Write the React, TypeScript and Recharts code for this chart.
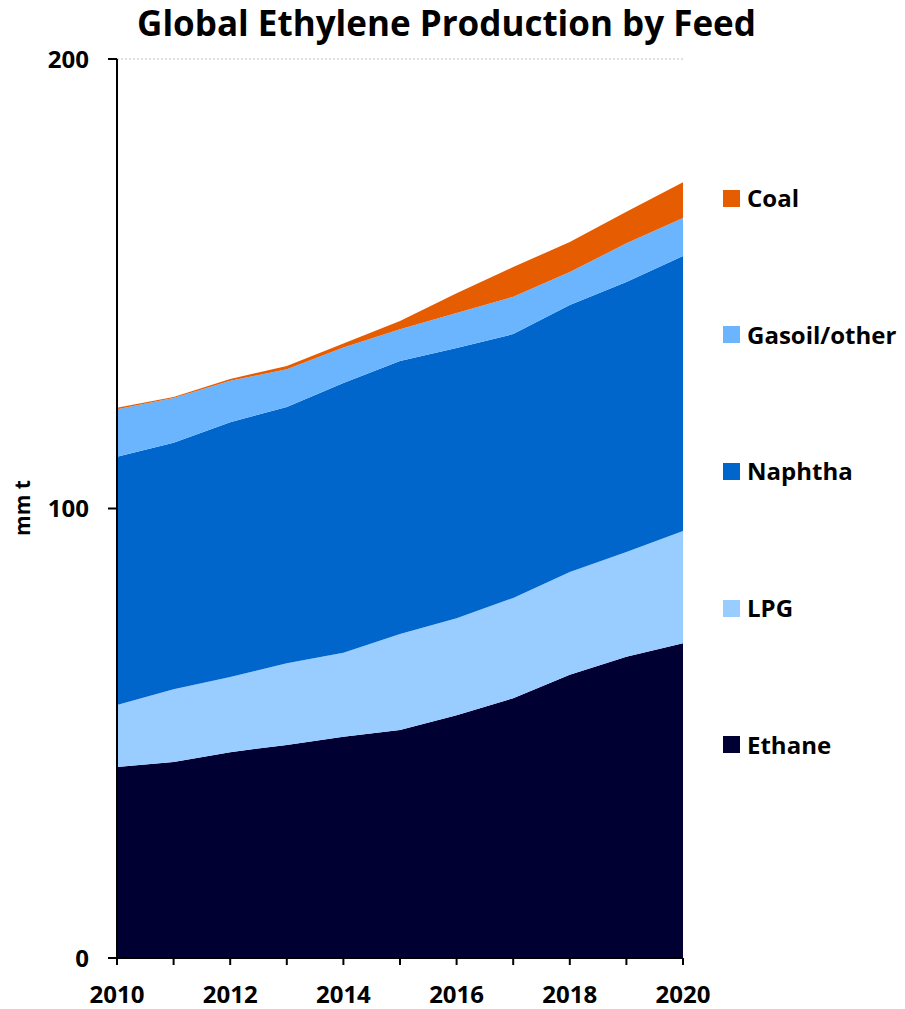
import { AreaChart, Area, XAxis, YAxis, ReferenceLine } from 'recharts';

const years = [2010, 2011, 2012, 2013, 2014, 2015, 2016, 2017, 2018, 2019, 2020];
const ethane = [42.5, 43.6, 45.8, 47.4, 49.2, 50.7, 54.0, 57.8, 63.0, 67.0, 70.0];
const lpg = [13.8, 16.2, 16.7, 18.2, 18.7, 21.4, 21.6, 22.3, 22.9, 23.3, 25.0];
const naphtha = [55.2, 54.8, 56.7, 57.0, 60.0, 60.7, 60.1, 58.7, 59.4, 60.1, 61.2];
const gasoil = [10.6, 10.0, 9.2, 8.4, 7.9, 7.1, 7.8, 8.3, 7.3, 8.6, 8.4];
const coal = [0.3, 0.2, 0.4, 0.7, 0.9, 1.8, 4.4, 6.6, 6.7, 7.0, 8.0];

const yTicks = [0, 100, 200];

// bottom to top of the stack
const series = [
  { key: 'ethane', name: 'Ethane', color: '#000033', values: ethane },
  { key: 'lpg', name: 'LPG', color: '#99CCFF', values: lpg },
  { key: 'naphtha', name: 'Naphtha', color: '#0066CC', values: naphtha },
  { key: 'gasoil', name: 'Gasoil/other', color: '#6BB5FF', values: gasoil },
  { key: 'coal', name: 'Coal', color: '#E65C00', values: coal },
];

const data = years.map((year, i) => {
  const row: Record<string, number> = { year };
  series.forEach((s) => {
    row[s.key] = s.values[i];
  });
  return row;
});

const FONT = '"Open Sans", sans-serif';
const tickStyle = { fontSize: 24, fontWeight: 700, fill: '#000', fontFamily: FONT };

export default function App() {
  return (
    <div style={{ position: 'absolute', left: 0, top: 0, width: 905, height: 1009, background: '#fff', fontFamily: FONT }}>
      <div
        style={{
          position: 'absolute',
          left: 0,
          top: 0,
          width: 893,
          textAlign: 'center',
          fontSize: 35,
          fontWeight: 700,
          lineHeight: '46px',
          whiteSpace: 'nowrap',
        }}
      >
        Global Ethylene Production by Feed
      </div>
      <div
        style={{
          position: 'absolute',
          left: 22,
          top: 508,
          transform: 'translate(-50%, -50%) rotate(-90deg)',
          fontSize: 21,
          fontWeight: 700,
          whiteSpace: 'nowrap',
        }}
      >
        mm t
      </div>

      <AreaChart
        width={905}
        height={1009}
        data={data}
        margin={{ top: 59, right: 222, bottom: 11, left: 57 }}
      >
        <ReferenceLine y={200} stroke="#bfbfbf" strokeDasharray="2 2" />
        {series.map((s) => (
          <Area
            key={s.key}
            type="linear"
            dataKey={s.key}
            name={s.name}
            stackId="feed"
            stroke="none"
            fill={s.color}
            fillOpacity={1}
            dot={false}
            activeDot={false}
            isAnimationActive={false}
          />
        ))}
        <XAxis
          dataKey="year"
          type="number"
          domain={[2010, 2020]}
          ticks={years}
          interval={0}
          tickFormatter={(v: number) => (v % 2 === 0 ? String(v) : '')}
          height={40}
          tick={tickStyle}
          tickSize={7}
          tickMargin={21}
          axisLine={{ stroke: '#000', strokeWidth: 2 }}
          tickLine={{ stroke: '#000', strokeWidth: 2 }}
        />
        <YAxis
          type="number"
          domain={[0, 200]}
          ticks={yTicks}
          interval={0}
          width={60}
          tick={tickStyle}
          tickSize={9}
          tickMargin={19}
          axisLine={{ stroke: '#000', strokeWidth: 2 }}
          tickLine={{ stroke: '#000', strokeWidth: 2 }}
        />
      </AreaChart>

      <div style={{ position: 'absolute', left: 723, top: 130 }}>
        {[...series].reverse().map((s) => (
          <div key={s.key} style={{ height: 136.6, display: 'flex', alignItems: 'center' }}>
            <span style={{ width: 17, height: 17, background: s.color, display: 'inline-block', marginRight: 7 }} />
            <span style={{ fontSize: 24, fontWeight: 700, whiteSpace: 'nowrap', lineHeight: '30px' }}>{s.name}</span>
          </div>
        ))}
      </div>
    </div>
  );
}
